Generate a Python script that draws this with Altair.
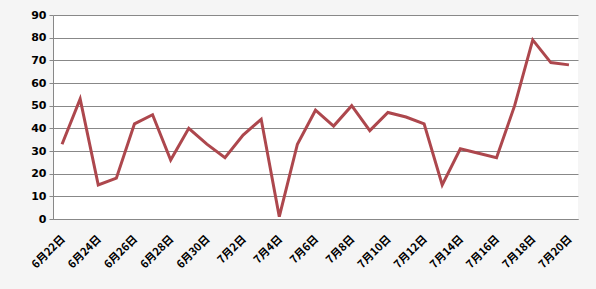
import altair as alt
import pandas as pd

dates = ["6月22日","6月23日","6月24日","6月25日","6月26日","6月27日","6月28日","6月29日","6月30日",
         "7月1日","7月2日","7月3日","7月4日","7月5日","7月6日","7月7日","7月8日","7月9日","7月10日",
         "7月11日","7月12日","7月13日","7月14日","7月15日","7月16日","7月17日","7月18日","7月19日","7月20日"]
values = [33, 53, 15, 18, 42, 46, 26, 40, 33, 27, 37, 44, 1, 33, 48, 41, 50, 39, 47, 45, 42, 15, 31, 29, 27, 50, 79, 69, 68]
shown_labels = dates[::2]
y_ticks = [0, 10, 20, 30, 40, 50, 60, 70, 80, 90]

df = pd.DataFrame({"date": dates, "value": values})

FONT = "Noto Sans CJK SC"

chart = alt.Chart(df).mark_line(color="#ad474d", strokeWidth=3, strokeJoin="miter").encode(
    x=alt.X("date:N", sort=dates,
            scale=alt.Scale(paddingInner=0, paddingOuter=0, align=0.5),
            axis=alt.Axis(title=None, values=shown_labels, labelAngle=-45, labelAlign="right",
                          labelBaseline="middle", labelPadding=18, labelOffset=1, ticks=False,
                          domainColor="#888888", labelFont=FONT, labelFontWeight="bold",
                          labelFontSize=11, labelColor="#000000", grid=False)),
    y=alt.Y("value:Q", scale=alt.Scale(domain=[0, 90], nice=False),
            axis=alt.Axis(title=None, values=y_ticks, tickColor="#888888", tickSize=4,
                          domainColor="#888888", gridColor="#888888", gridOpacity=1,
                          labelFont="DejaVu Sans", labelFontWeight="bold", labelFontSize=11,
                          labelColor="#000000", labelPadding=3)),
).properties(
    width=525, height=204,
    autosize=alt.AutoSizeParams(type="none"),
    padding={"left": 53, "top": 15, "right": 18, "bottom": 70},
    background="#f5f5f5",
).configure_view(fill="#ffffff", stroke=None)

chart.save("out.html", embed_options={"renderer": "svg", "actions": False})
